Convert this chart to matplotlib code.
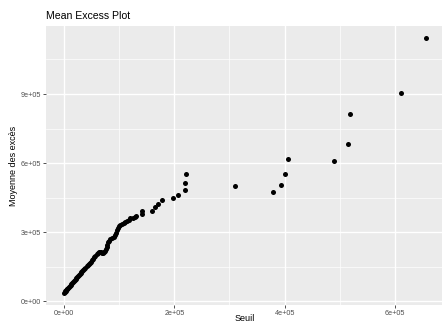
import numpy as np
import matplotlib.pyplot as plt

# seuils et moyennes des excès (en milliers)
seuil_k = [
    0, 1, 2, 3, 4, 5, 6, 7.5, 9, 10.5, 12, 13.5, 15, 16.5, 18, 19.5, 21, 22.5,
    24, 25.5, 27, 28.5, 30, 31.5, 33, 35, 37, 39, 41, 43, 45, 47, 49, 51, 53,
    55, 57, 59, 61, 63, 65, 67, 69, 71, 73, 75, 76.5, 77.5, 78.5, 80, 82, 84,
    87, 90, 93, 95, 96.5, 98, 100, 102, 105, 108, 111, 114, 117, 120, 125,
    129, 131, 141, 141, 159, 165, 171, 177, 197, 207.5, 219.5, 219.5, 220.5,
    310.5, 379, 394, 401, 405.5, 490, 514.5, 518, 610, 656,
]
moyenne_k = [
    38, 41, 44, 47, 50, 53, 56, 60, 64, 68, 73, 77, 81, 86, 90, 94, 98, 103,
    107, 111, 116, 120, 124, 128, 132, 136, 141, 147, 152, 157, 162, 167, 172,
    178, 185, 192, 199, 205, 211, 215, 216, 213, 211, 212, 215, 220, 228, 238,
    247, 256, 264, 270, 276, 281, 287, 297, 308, 318, 326, 333, 337, 341, 344,
    349, 353, 361, 361, 366, 372, 380, 394, 394, 411, 423, 441, 447, 463, 482,
    516, 555, 503, 474, 506, 554, 619, 611, 682, 815, 904, 1142,
]

x_ticks = [0, 2e5, 4e5, 6e5]
x_labels = ["0e+00", "2e+05", "4e+05", "6e+05"]
y_ticks = [0, 3e5, 6e5, 9e5]
y_labels = ["0e+00", "3e+05", "6e+05", "9e+05"]

plt.rcParams['font.family'] = ['Liberation Sans', 'DejaVu Sans']

x = np.array(seuil_k) * 1000
y = np.array(moyenne_k) * 1000

fig = plt.figure(figsize=(4.42, 3.23), dpi=100)
ax = fig.add_axes([0.1038, 0.0545, 0.9007, 0.8663])
ax.set_facecolor('#EBEBEB')

ax.scatter(x, y, s=13, color='black', linewidths=0, zorder=3)

# limites avec 5 % d'expansion
dx = (x.max() - x.min()) * 0.05
dy = (y.max() - y.min()) * 0.05
ax.set_xlim(x.min() - dx, x.max() + dx)
ax.set_ylim(y.min() - dy, y.max() + dy)

ax.set_xticks(x_ticks, x_labels)
ax.set_yticks(y_ticks, y_labels)
ax.set_xticks([1e5, 3e5, 5e5], minor=True)
ax.set_yticks([1.5e5, 4.5e5, 7.5e5, 10.5e5], minor=True)
ax.grid(which='major', color='white', linewidth=1.0)
ax.grid(which='minor', color='white', linewidth=0.5)
ax.set_axisbelow(True)
for sp in ax.spines.values():
    sp.set_visible(False)

ax.tick_params(which='major', length=2, width=0.6, color='#333333',
               labelsize=5.2, labelcolor='#4D4D4D', pad=1.5)
ax.tick_params(which='minor', length=0)

ax.set_xlabel("Seuil", fontsize=6.5, labelpad=-2)
ax.set_ylabel("Moyenne des excès", fontsize=6.5, labelpad=2)
ax.set_title("Mean Excess Plot", fontsize=7.6, loc='left', pad=5)

fig.savefig('out.png', dpi=100)
